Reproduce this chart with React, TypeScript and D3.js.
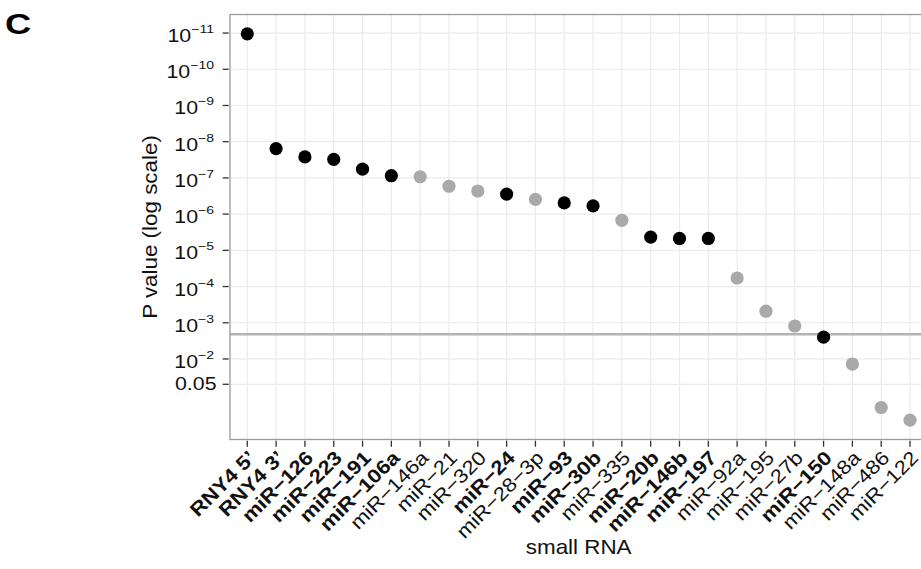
import React from "react";
import * as d3 from "d3";

const categories = [
  "RNY4 5’", "RNY4 3’", "miR−126", "miR−223", "miR−191", "miR−106a",
  "miR−146a", "miR−21", "miR−320", "miR−24", "miR−28−3p", "miR−93",
  "miR−30b", "miR−335", "miR−20b", "miR−146b", "miR−197", "miR−92a",
  "miR−195", "miR−27b", "miR−150", "miR−148a", "miR−486", "miR−122",
];

const pValues = [
  1.05e-11, 1.55e-8, 2.63e-8, 3.09e-8, 5.75e-8, 8.7e-8,
  9.3e-8, 1.7e-7, 2.3e-7, 2.8e-7, 3.9e-7, 4.9e-7,
  5.9e-7, 1.48e-6, 4.3e-6, 4.7e-6, 4.7e-6, 5.8e-5,
  4.8e-4, 1.23e-3, 2.5e-3, 0.0138, 0.219, 0.49,
];

const highlighted = [
  true, true, true, true, true, true,
  false, false, false, true, false, true,
  true, false, true, true, true, false,
  false, false, true, false, false, false,
];

const yTickValues = [1e-11, 1e-10, 1e-9, 1e-8, 1e-7, 1e-6, 1e-5, 1e-4, 1e-3, 1e-2, 0.05];
const yTickExponents = ["−11", "−10", "−9", "−8", "−7", "−6", "−5", "−4", "−3", "−2", ""];
const yTickPlain = ["", "", "", "", "", "", "", "", "", "", "0.05"];

const threshold = 0.05 / categories.length;

const W = 921;
const H = 569;
const panel = { left: 230, top: 14.5, right: 927.3, bottom: 439.5 };
const FONT = "'Liberation Sans', Arial, Helvetica, sans-serif";

export default function App() {
  const x = d3
    .scalePoint<string>()
    .domain(categories)
    .range([panel.left, panel.right])
    .padding(0.6);

  const lo = Math.log10(d3.min(pValues) as number);
  const hi = Math.log10(d3.max(pValues) as number);
  const span = hi - lo;
  const y = d3
    .scaleLog()
    .domain([Math.pow(10, lo - 0.05 * span), Math.pow(10, hi + 0.05 * span)])
    .range([panel.top, panel.bottom]);

  const pw = panel.right - panel.left;
  const ph = panel.bottom - panel.top;

  return (
    <svg
      width={W}
      height={H}
      style={{ position: "absolute", left: 0, top: 0, background: "#fff" }}
      fontFamily={FONT}
    >
      <rect x={0} y={0} width={W} height={H} fill="#fff" />
      <text transform="translate(5,34) scale(1.25,1)" fontSize={29} fontWeight="bold" fill="#000">C</text>

      {/* gridlines */}
      <g stroke="#ebebeb" strokeWidth={1.2}>
        {yTickValues.map((v, i) => (
          <line key={"gy" + i} x1={panel.left} x2={panel.right} y1={y(v)} y2={y(v)} />
        ))}
        {categories.map((c) => (
          <line key={"gx" + c} x1={x(c)} x2={x(c)} y1={panel.top} y2={panel.bottom} />
        ))}
      </g>

      {/* threshold */}
      <line
        x1={panel.left}
        x2={panel.right}
        y1={y(threshold)}
        y2={y(threshold)}
        stroke="#b3b3b3"
        strokeWidth={2.5}
      />

      {/* points */}
      {categories.map((c, i) => (
        <circle
          key={"p" + c}
          cx={x(c)}
          cy={y(pValues[i])}
          r={6.6}
          fill={highlighted[i] ? "#000" : "#a9a9a9"}
        />
      ))}

      {/* panel border */}
      <rect
        x={panel.left}
        y={panel.top}
        width={pw}
        height={ph}
        fill="none"
        stroke="#9a9a9a"
        strokeWidth={1.3}
      />

      {/* y axis ticks & labels */}
      {yTickValues.map((v, i) => (
        <g key={"ty" + i}>
          <line x1={222.7} x2={228.7} y1={y(v)} y2={y(v)} stroke="#333" strokeWidth={1.3} />
          {yTickPlain[i] ? (
            <text
              transform={`translate(216.5,${y(v) + 6.2}) scale(1.22,1)`}
              textAnchor="end"
              fontSize={17.5}
              fill="#111"
            >
              {yTickPlain[i]}
            </text>
          ) : (
            <text
              transform={`translate(214,${y(v) + 9}) scale(1.22,1)`}
              textAnchor="end"
              fontSize={17.5}
              fill="#111"
            >
              <tspan>10</tspan>
              <tspan dy={-9} fontSize={11.5}>{yTickExponents[i]}</tspan>
            </text>
          )}
        </g>
      ))}

      {/* x axis ticks & labels */}
      {categories.map((c, i) => (
        <g key={"tx" + c}>
          <line x1={x(c)} x2={x(c)} y1={440.7} y2={446.7} stroke="#333" strokeWidth={1.3} />
          <text
            transform={`translate(${(x(c) as number) + 9.5},${459}) rotate(-45) scale(1.13,1)`}
            textAnchor="end"
            fontSize={19.5}
            fontWeight={highlighted[i] ? "bold" : "normal"}
            fill="#111"
          >
            {c}
          </text>
        </g>
      ))}

      {/* axis titles */}
      <text
        transform={`translate(${(panel.left + panel.right) / 2},554) scale(1.12,1)`}
        textAnchor="middle"
        fontSize={20}
        fill="#111"
      >
        small RNA
      </text>
      <text
        transform={`translate(157,${(panel.top + panel.bottom) / 2}) rotate(-90) scale(1.12,1)`}
        textAnchor="middle"
        fontSize={20}
        fill="#111"
      >
        P value (log scale)
      </text>
    </svg>
  );
}
